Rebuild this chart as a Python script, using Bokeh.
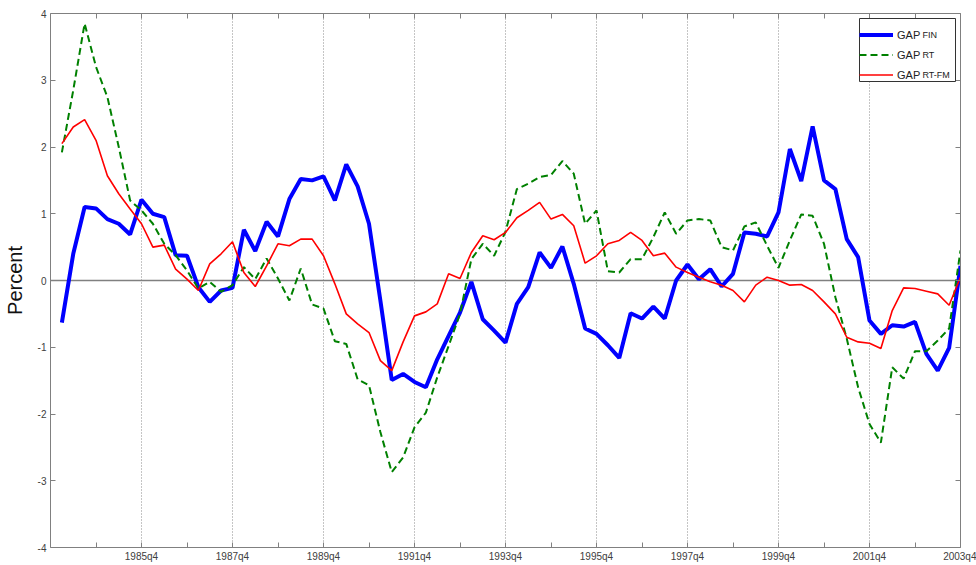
from bokeh.plotting import figure
from bokeh.models import (FixedTicker, LinearAxis, Span, Legend, LegendItem, Label, Range1d,
                          BoxAnnotation)
from bokeh.embed import file_html
from bokeh.resources import INLINE

# ---------------- data ----------------
quarters = [f"{y}q{q}" for y in range(1984, 2004) for q in range(1, 5)]  # 1984q1 .. 2003q4

gap_fin = [
    -0.63, 0.40, 1.10, 1.08, 0.92, 0.85, 0.69, 1.21, 1.00, 0.95,
    0.38, 0.37, -0.10, -0.32, -0.15, -0.11, 0.76, 0.44, 0.88, 0.66,
    1.22, 1.52, 1.50, 1.56, 1.20, 1.74, 1.41, 0.85, -0.30, -1.49,
    -1.40, -1.52, -1.60, -1.18, -0.83, -0.48, -0.02, -0.58, -0.75, -0.93,
    -0.35, -0.10, 0.42, 0.19, 0.51, -0.05, -0.72, -0.80, -0.97, -1.16,
    -0.49, -0.57, -0.39, -0.57, 0.00, 0.24, 0.02, 0.17, -0.09, 0.10,
    0.72, 0.70, 0.66, 1.02, 1.97, 1.49, 2.31, 1.50, 1.37, 0.62,
    0.35, -0.60, -0.80, -0.67, -0.69, -0.62, -1.10, -1.35, -1.01, 0.22,
]

gap_rt = [
    1.92, 2.85, 3.85, 3.20, 2.75, 2.00, 1.20, 1.05, 0.85, 0.55,
    0.38, 0.15, -0.12, -0.02, -0.17, -0.07, 0.20, 0.02, 0.33, 0.03,
    -0.30, 0.18, -0.36, -0.42, -0.91, -0.95, -1.48, -1.57, -2.27, -2.87,
    -2.65, -2.20, -1.98, -1.45, -0.98, -0.50, 0.32, 0.55, 0.37, 0.73,
    1.37, 1.45, 1.55, 1.58, 1.79, 1.60, 0.85, 1.05, 0.14, 0.12,
    0.32, 0.32, 0.65, 1.02, 0.70, 0.90, 0.92, 0.90, 0.50, 0.45,
    0.81, 0.87, 0.52, 0.19, 0.60, 0.99, 0.97, 0.55, -0.25, -0.87,
    -1.60, -2.15, -2.43, -1.30, -1.47, -1.06, -1.06, -0.90, -0.72, 0.45,
]

gap_rt_fm = [
    2.05, 2.30, 2.41, 2.10, 1.57, 1.30, 1.07, 0.85, 0.50, 0.53,
    0.17, 0.02, -0.15, 0.25, 0.40, 0.58, 0.12, -0.09, 0.22, 0.55,
    0.52, 0.62, 0.62, 0.37, -0.05, -0.50, -0.65, -0.78, -1.20, -1.35,
    -0.92, -0.53, -0.47, -0.35, 0.10, 0.03, 0.42, 0.67, 0.61, 0.72,
    0.94, 1.05, 1.17, 0.92, 0.99, 0.82, 0.26, 0.37, 0.55, 0.60,
    0.72, 0.60, 0.37, 0.41, 0.20, 0.12, 0.05, -0.02, -0.07, -0.15,
    -0.32, -0.07, 0.05, 0.00, -0.07, -0.06, -0.15, -0.32, -0.50, -0.85,
    -0.92, -0.94, -1.02, -0.45, -0.11, -0.12, -0.16, -0.20, -0.37, 0.05,
]

major_tick_labels = ["1985q4", "1987q4", "1989q4", "1991q4", "1993q4",
                     "1995q4", "1997q4", "1999q4", "2001q4", "2003q4"]
minor_tick_labels = ["1984q4", "1986q4", "1988q4", "1990q4", "1992q4",
                     "1994q4", "1996q4", "1998q4", "2000q4", "2002q4"]
y_ticks = [-4, -3, -2, -1, 0, 1, 2, 3, 4]

series_labels = ["GAP", "GAP", "GAP"]
series_subscripts = ["FIN", "RT", "RT-FM"]

# ---------------- figure ----------------
FONT = "Liberation Sans"
AX = "#808080"
TXT = "#404040"
FW, FH = 910, 534
X0, X1 = 0, len(quarters)
Y0, Y1 = y_ticks[0], y_ticks[-1]

def px_to_x(px):   # frame px from left -> data x
    return X0 + (X1 - X0) * px / FW

def px_to_y(py):   # frame px from top -> data y
    return Y1 - (Y1 - Y0) * py / FH

xpos = list(range(1, len(quarters) + 1))        # 0 == 1983q4
major_pos = [quarters.index(q) + 1 for q in major_tick_labels]
minor_pos = [quarters.index(q) + 1 for q in minor_tick_labels]

p = figure(frame_width=FW, frame_height=FH,
           x_range=Range1d(X0, X1), y_range=Range1d(Y0, Y1),
           output_backend="svg", toolbar_location=None,
           min_border_left=50, min_border_right=16, min_border_top=13, min_border_bottom=18,
           background_fill_color="white", border_fill_color="white")
p.outline_line_color = None

# bottom axis
xa = p.xaxis[0]
xa.ticker = FixedTicker(ticks=major_pos, minor_ticks=minor_pos)
xa.major_label_overrides = {pp: lab for pp, lab in zip(major_pos, major_tick_labels)}
# left axis
ya = p.yaxis[0]
ya.ticker = FixedTicker(ticks=y_ticks)
ya.major_label_overrides = {v: str(v) for v in y_ticks}
ya.axis_label = "Percent"
ya.axis_label_text_font = FONT
ya.axis_label_text_font_size = "20px"
ya.axis_label_text_font_style = "normal"
ya.axis_label_text_color = "#111111"
ya.axis_label_standoff = 9

top = LinearAxis(ticker=FixedTicker(ticks=major_pos, minor_ticks=minor_pos))
right = LinearAxis(ticker=FixedTicker(ticks=y_ticks))

for ax in (xa, ya, top, right):
    ax.axis_line_color = AX
    ax.major_tick_line_color = AX
    ax.minor_tick_line_color = AX
    ax.major_tick_in = 5
    ax.major_tick_out = 0
    ax.minor_tick_in = 5
    ax.minor_tick_out = 0
    ax.major_label_text_font = FONT
    ax.major_label_text_font_size = "10px"
    ax.major_label_text_color = TXT
xa.major_label_standoff = 3
ya.major_label_standoff = 4
for ax in (top, right):
    ax.major_label_text_color = None
    ax.major_label_text_font_size = "1px"
    ax.major_label_standoff = 0
p.add_layout(top, "above")
p.add_layout(right, "right")

# grid: dotted verticals at labelled ticks only
p.ygrid.visible = False
p.xgrid.ticker = FixedTicker(ticks=major_pos)
p.xgrid.grid_line_color = "#8a8a8a"
p.xgrid.grid_line_dash = "1 2"
p.xgrid.grid_line_width = 1

# zero line
p.add_layout(Span(location=0, dimension="width", line_color=AX, line_width=1.5, level="underlay"))

# series
r1 = p.line(xpos, gap_fin, line_color="#0000ff", line_width=4)
r2 = p.line(xpos, gap_rt, line_color="#008000", line_width=2, line_dash="7 4")
r3 = p.line(xpos, gap_rt_fm, line_color="#ff0000", line_width=1.6)

# legend geometry (frame pixels)
LEG_TOP = 5
LEG_LEFT = 809
LEG_W = 96
PAD, ROW, SP, GW, STD = 5, 13, 7, 34, 4
leg_h = 2 * PAD + 3 * ROW + 2 * SP

# legend box (white background + border), drawn above the data lines
p.add_layout(BoxAnnotation(left=px_to_x(LEG_LEFT), right=px_to_x(LEG_LEFT + LEG_W),
                           top=px_to_y(LEG_TOP), bottom=px_to_y(LEG_TOP + leg_h),
                           fill_color="white", fill_alpha=1.0,
                           line_color="#333333", line_width=1, line_alpha=1.0))

legend = Legend(
    items=[LegendItem(label=series_labels[i], renderers=[r]) for i, r in enumerate([r1, r2, r3])],
    location=(LEG_LEFT, FH - LEG_TOP - leg_h),
    padding=PAD, spacing=SP, margin=0,
    glyph_width=GW, glyph_height=ROW, label_height=ROW, label_width=48, label_standoff=STD,
    label_text_font=FONT, label_text_font_size="11px", label_text_color="#222222",
    border_line_color=None, background_fill_alpha=0.0,
)
p.add_layout(legend)

# subscripts of the legend labels (placed right after "GAP")
sub_px = LEG_LEFT + PAD + GW + STD + 20
for i, sub in enumerate(series_subscripts):
    row_center = LEG_TOP + PAD + ROW / 2 + i * (ROW + SP)
    p.add_layout(Label(x=px_to_x(sub_px), y=px_to_y(row_center + 5), text=sub,
                       text_font=FONT, text_font_size="9px", text_color="#222222",
                       text_baseline="middle", text_align="left"))

open("out.html", "w").write(file_html(p, INLINE))
